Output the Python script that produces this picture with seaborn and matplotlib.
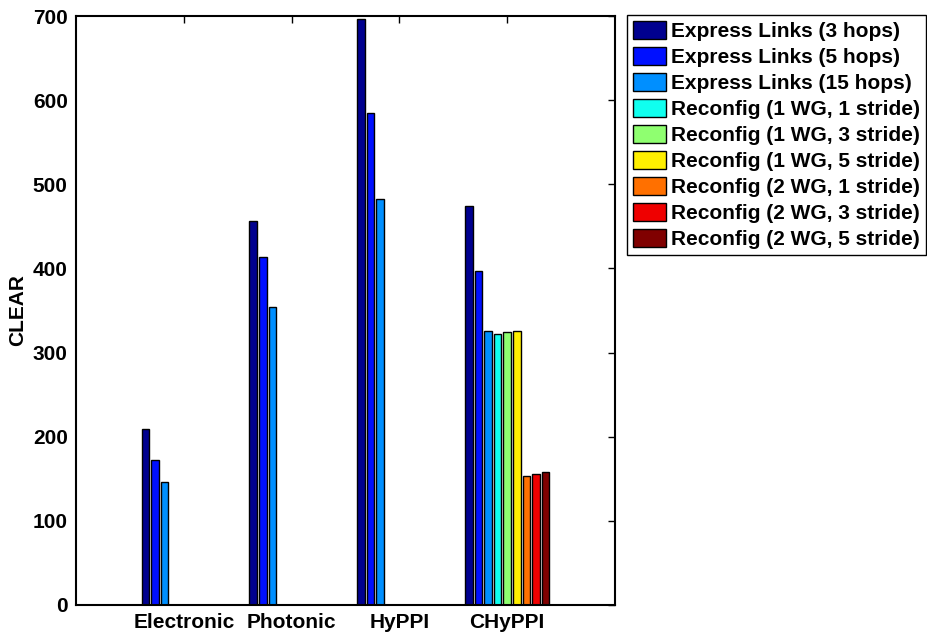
import matplotlib
matplotlib.use("Agg")
import matplotlib.pyplot as plt
import seaborn as sns
import pandas as pd

groups = ["Electronic", "Photonic", "HyPPI", "CHyPPI"]
series = [
    "Express Links (3 hops)",
    "Express Links (5 hops)",
    "Express Links (15 hops)",
    "Reconfig (1 WG, 1 stride)",
    "Reconfig (1 WG, 3 stride)",
    "Reconfig (1 WG, 5 stride)",
    "Reconfig (2 WG, 1 stride)",
    "Reconfig (2 WG, 3 stride)",
    "Reconfig (2 WG, 5 stride)",
]
values_electronic = [209, 172, 146, 0, 0, 0, 0, 0, 0]
values_photonic = [456, 413, 354, 0, 0, 0, 0, 0, 0]
values_hyppi = [697, 585, 482, 0, 0, 0, 0, 0, 0]
values_chyppi = [474, 397, 326, 322, 325, 326, 153, 156, 158]
colors = ["#00008F", "#0010FF", "#008FFF", "#10FFEF", "#8FFF70",
          "#FFEF00", "#FF7000", "#EF0000", "#800000"]
yticks = [0, 100, 200, 300, 400, 500, 600, 700]

rows = []
for g, vals in zip(groups, [values_electronic, values_photonic, values_hyppi, values_chyppi]):
    for s, v in zip(series, vals):
        rows.append({"group": g, "series": s, "value": v})
df = pd.DataFrame(rows)

sns.set_style("white")
plt.rcParams["font.family"] = ["Liberation Sans", "DejaVu Sans"]
plt.rcParams["font.weight"] = "bold"
plt.rcParams["text.color"] = "black"
plt.rcParams["axes.labelcolor"] = "black"

fig = plt.figure(figsize=(9.27, 6.44), dpi=100)
ax = fig.add_axes([76 / 927, 1 - 605 / 644, (615 - 76) / 927, (605 - 16) / 644])

sns.barplot(data=df, x="group", y="value", hue="series", hue_order=series,
            order=groups, palette=colors, saturation=1, width=0.8, gap=0.2,
            edgecolor="black", linewidth=1.0, ax=ax, errorbar=None)

ax.set_xlim(-1, 4)
ax.set_ylim(0, 700)
ax.set_yticks(yticks)
ax.set_xlabel("")
ax.set_ylabel("CLEAR", fontsize=15, fontweight="bold", labelpad=4, color="black")
ax.tick_params(direction="in", top=True, right=True, length=5, width=1,
               labelsize=15, colors="black", pad=6)
for lab in ax.get_xticklabels() + ax.get_yticklabels():
    lab.set_fontweight("bold")
for sp in ax.spines.values():
    sp.set_visible(True)
    sp.set_color("black")
    sp.set_linewidth(1.5)

ax.get_legend().remove()
handles, labels = ax.get_legend_handles_labels()
leg = fig.legend(handles, labels, loc="upper left",
                 bbox_to_anchor=(627 / 927, 1 - 15 / 644),
                 bbox_transform=fig.transFigure,
                 fancybox=False, framealpha=1, edgecolor="black",
                 prop={"size": 15, "weight": "bold"},
                 handlelength=1.55, handleheight=0.95, handletextpad=0.25,
                 labelspacing=0.28, borderpad=0.3, borderaxespad=0)
leg.get_frame().set_linewidth(1.0)
for t in leg.get_texts():
    t.set_color("black")

fig.savefig("out.png", dpi=100)
